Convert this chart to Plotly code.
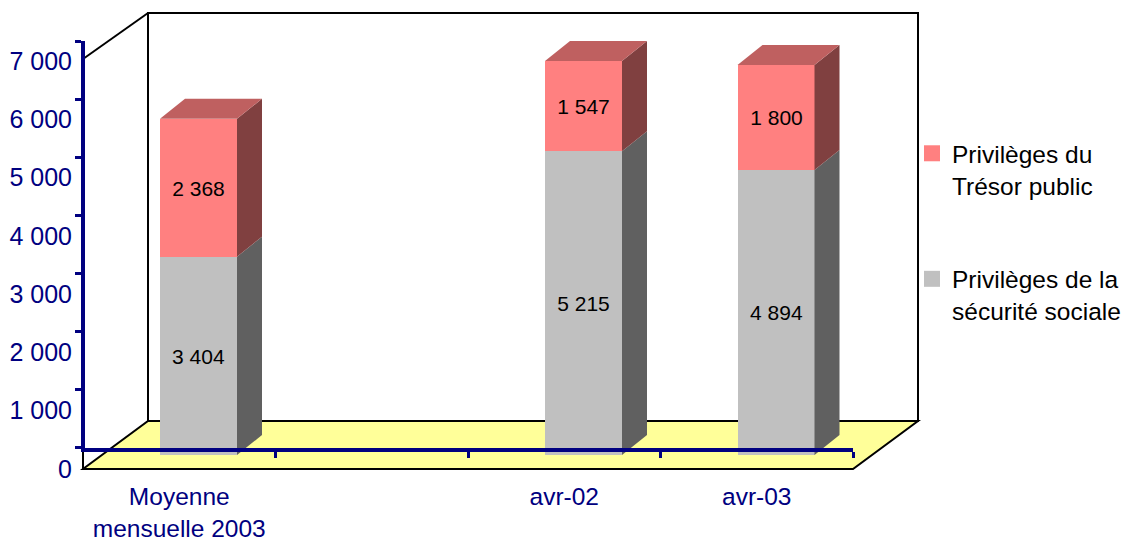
import plotly.graph_objects as go

# ---- data ----
categories = ["Moyenne<br>mensuelle 2003", "", "avr-02", "avr-03"]
securite = [3404, None, 5215, 4894]
tresor = [2368, None, 1547, 1800]
y_ticks = [0, 1000, 2000, 3000, 4000, 5000, 6000, 7000]
y_labels = ["0", "1 000", "2 000", "3 000", "4 000", "5 000", "6 000", "7 000"]
name_securite = "Privilèges de la<br>sécurité sociale"
name_tresor = "Privilèges du<br>Trésor public"

# ---- styles / geometry ----
W, H = 1130, 539
FONT = "Liberation Sans"
NAVY = "#000080"
RED, RED_SIDE, RED_TOP = "#FF8080", "#804040", "#BF6060"
GREY, GREY_SIDE = "#C0C0C0", "#606060"
YELLOW = "#FFFF99"

PX_CAT = 192.5        # px per category
PX_VAL = 0.05825      # px per value unit
X0_PX, Y0_PX = 83, 455
BAR_OFF, BAR_W = -0.10, 0.40
DX, DY = 25 / PX_CAT, 20 / PX_VAL  # 3D depth in axis units


def fx(px):
    return px / W


def fy(px):
    return 1 - px / H


def num(v):
    return f"{v:,}".replace(",", " ")


fig = go.Figure()


def poly(xs, ys, color):
    fig.add_trace(go.Scatter(x=xs, y=ys, mode="lines", fill="toself", fillcolor=color,
                             line=dict(width=0, color=color), showlegend=False,
                             hoverinfo="skip"))


idx = range(len(categories))
xs = [i for i in idx]
for vals, name, color in ((securite, name_securite, GREY), (tresor, name_tresor, RED)):
    fig.add_trace(go.Bar(
        x=xs, y=vals, name=name, width=BAR_W, offset=BAR_OFF, showlegend=False,
        marker=dict(color=color, line=dict(width=0)),
        text=[num(v) if v is not None else "" for v in vals],
        textposition="inside", insidetextanchor="middle", textangle=0,
        insidetextfont=dict(family=FONT, size=21, color="#000000"),
        constraintext="none", hoverinfo="skip"))

for i in idx:
    if securite[i] is None:
        continue
    r = i + BAR_OFF + BAR_W
    l = i + BAR_OFF
    s, t = securite[i], securite[i] + tresor[i]
    poly([r, r + DX, r + DX, r, r], [0, DY, s + DY, s, 0], GREY_SIDE)
    poly([r, r + DX, r + DX, r, r], [s, s + DY, t + DY, t, s], RED_SIDE)
    poly([l, l + DX, r + DX, r, l], [t, t + DY, t + DY, t, t], RED_TOP)

# legend entries (blank first line keeps the swatch level with the first text line)
for name, color, grp in ((name_tresor, RED, "a"), (name_securite, GREY, "b")):
    fig.add_trace(go.Scatter(x=[None], y=[None], mode="markers", name=" <br>" + name, legendgroup=grp,
                             marker=dict(symbol="square", size=16, color=color)))

# blue axes subplot and label subplot
fig.add_trace(go.Scatter(x=[None], y=[None], xaxis="x2", yaxis="y3", showlegend=False))
fig.add_trace(go.Scatter(x=[None], y=[None], xaxis="x3", yaxis="y4", showlegend=False))

shapes = [
    # back wall
    dict(type="rect", xref="paper", yref="paper", x0=fx(148), x1=fx(918), y0=fy(421), y1=fy(13),
         fillcolor="#FFFFFF", line=dict(color="#000000", width=2), layer="below"),
    # floor
    dict(type="path", xref="paper", yref="paper",
         path=f"M{fx(148)},{fy(421)} L{fx(918)},{fy(421)} L{fx(853)},{fy(469)} L{fx(83)},{fy(469)} Z",
         fillcolor=YELLOW, line=dict(color="#000000", width=2), layer="below"),
    # left wall edges
    dict(type="line", xref="paper", yref="paper", x0=fx(83), y0=fy(59), x1=fx(148), y1=fy(13),
         line=dict(color="#000000", width=2), layer="below"),
    dict(type="line", xref="paper", yref="paper", x0=fx(83), y0=fy(449), x1=fx(83), y1=fy(469),
         line=dict(color="#000000", width=2), layer="below"),
]

AX_RANGE = [-0.5, len(categories) - 0.5]
fig.update_layout(
    width=W, height=H, margin=dict(l=0, r=0, t=0, b=0, autoexpand=False),
    paper_bgcolor="#FFFFFF", plot_bgcolor="rgba(0,0,0,0)",
    barmode="stack", bargap=0, hovermode=False, shapes=shapes,
    font=dict(family=FONT),
    xaxis=dict(domain=[0, 1], range=[-0.5 - X0_PX / PX_CAT, -0.5 + (W - X0_PX) / PX_CAT],
               visible=False, anchor="y"),
    yaxis=dict(domain=[0, 1], range=[-(H - Y0_PX) / PX_VAL, Y0_PX / PX_VAL],
               visible=False, anchor="x"),
    # navy axis lines with ticks
    xaxis2=dict(domain=[fx(85), fx(853)], range=[AX_RANGE[0] + 2 / PX_CAT, AX_RANGE[1]], anchor="y3",
                showgrid=False, zeroline=False, showline=True, linecolor=NAVY, linewidth=4,
                ticks="outside", ticklen=6, tickwidth=3, tickcolor=NAVY,
                tickvals=[i - 0.5 for i in range(1, len(categories) + 1)], showticklabels=False),
    yaxis3=dict(domain=[fy(447.5), fy(41)], range=[0, 7000], anchor="x2", showgrid=False,
                zeroline=False, showline=True, linecolor=NAVY, linewidth=4,
                ticks="outside", ticklen=6, tickwidth=3, tickcolor=NAVY,
                tickvals=y_ticks, showticklabels=False),
    # tick labels, placed as in the reference (offset from the navy axes)
    xaxis3=dict(domain=[fx(83), fx(853)], range=AX_RANGE, anchor="y4", showgrid=False,
                zeroline=False, showline=False, ticks="outside", ticklen=6,
                tickcolor="rgba(0,0,0,0)", tickvals=list(idx), ticktext=categories,
                tickangle=0, tickfont=dict(family=FONT, size=24.5, color=NAVY)),
    yaxis4=dict(domain=[fy(469), fy(61)], range=[0, 7000], anchor="x3", showgrid=False,
                zeroline=False, showline=False, ticks="outside", ticklen=5,
                tickcolor="rgba(0,0,0,0)", tickvals=y_ticks, ticktext=y_labels,
                tickfont=dict(family=FONT, size=25, color=NAVY)),
    legend=dict(x=fx(912), y=fy(99), xanchor="left", yanchor="top",
                bgcolor="rgba(0,0,0,0)", borderwidth=0, itemsizing="trace",
                tracegroupgap=27, traceorder="grouped",
                font=dict(family=FONT, size=24.5, color="#000000")),
)

fig.write_html("out.html", config=dict(displayModeBar=False),
               post_script="document.body.style.margin='0';document.body.style.overflow='hidden';")
